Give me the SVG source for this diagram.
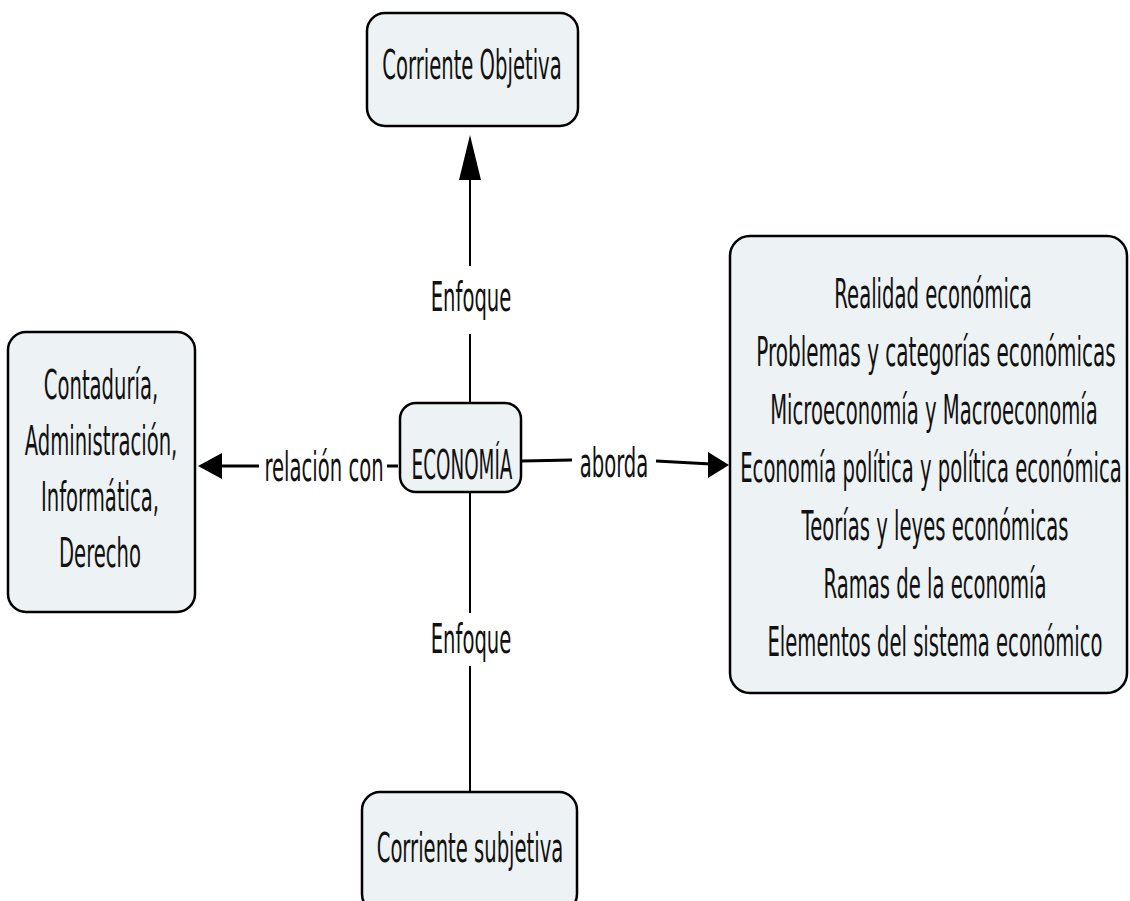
<svg xmlns="http://www.w3.org/2000/svg" width="1130" height="901" viewBox="0 0 1130 901">
<style>
.box{fill:#edf2f4;stroke:#000;stroke-width:2.5}
.t{font-family:"DejaVu Sans","Verdana",sans-serif;font-size:41px;fill:#111;text-anchor:middle}
.ln{stroke:#000;stroke-width:2;fill:none}
.lh{stroke:#000;stroke-width:3;fill:none}
.ah{fill:#000}
</style>
<rect width="1130" height="901" fill="#fff"/>
<g id="connectors">
  <line class="ln" x1="470" y1="178" x2="470" y2="266"/>
  <polygon class="ah" points="470,135 459,180 481,180"/>
  <text class="t" transform="matrix(0.478 0 0 1 471 0)" x="0" y="311">Enfoque</text>
  <line class="ln" x1="470" y1="334" x2="470" y2="402"/>
  <line class="ln" x1="470" y1="493" x2="470" y2="613"/>
  <text class="t" transform="matrix(0.478 0 0 1 471 0)" x="0" y="653">Enfoque</text>
  <line class="ln" x1="470" y1="666" x2="470" y2="791"/>
  <line class="lh" x1="220" y1="466" x2="259" y2="466"/>
  <polygon class="ah" points="198,466 222,453 222,479"/>
  <text class="t" transform="matrix(0.478 0 0 1 324 0)" x="0" y="481">relación con</text>
  <line class="lh" x1="387" y1="466" x2="398" y2="466"/>
  <line class="lh" x1="522" y1="461" x2="572" y2="460"/>
  <text class="t" transform="matrix(0.478 0 0 1 614 0)" x="0" y="477">aborda</text>
  <line class="lh" x1="656" y1="461" x2="711" y2="464"/>
  <polygon class="ah" points="729,465 708,452 708,478"/>
</g>
<g id="node-objetiva">
  <rect class="box" x="367" y="13" width="211" height="113" rx="18"/>
  <text class="t" transform="matrix(0.478 0 0 1 472 0)" x="0" y="79">Corriente Objetiva</text>
</g>
<g id="node-economia">
  <rect class="box" x="400" y="403" width="121" height="89" rx="16"/>
  <text class="t" transform="matrix(0.448 0 0 1 462 0)" x="0" y="479">ECONOMÍA</text>
</g>
<g id="node-relacion">
  <rect class="box" x="8" y="332" width="187" height="280" rx="18"/>
  <text class="t" transform="matrix(0.478 0 0 1 101 0)" x="0" y="399">Contaduría,</text>
  <text class="t" transform="matrix(0.478 0 0 1 101 0)" x="0" y="455">Administración,</text>
  <text class="t" transform="matrix(0.478 0 0 1 100 0)" x="0" y="511">Informática,</text>
  <text class="t" transform="matrix(0.478 0 0 1 100 0)" x="0" y="567">Derecho</text>
</g>
<g id="node-aborda">
  <rect class="box" x="730" y="236" width="397" height="457" rx="20"/>
  <text class="t" transform="matrix(0.478 0 0 1 933 0)" x="0" y="308">Realidad económica</text>
  <text class="t" transform="matrix(0.488 0 0 1 936 0)" x="0" y="366">Problemas y categorías económicas</text>
  <text class="t" transform="matrix(0.478 0 0 1 934 0)" x="0" y="424">Microeconomía y Macroeconomía</text>
  <text class="t" transform="matrix(0.478 0 0 1 931 0)" x="0" y="482">Economía política y política económica</text>
  <text class="t" transform="matrix(0.478 0 0 1 935 0)" x="0" y="540">Teorías y leyes económicas</text>
  <text class="t" transform="matrix(0.478 0 0 1 935 0)" x="0" y="598">Ramas de la economía</text>
  <text class="t" transform="matrix(0.478 0 0 1 935 0)" x="0" y="656">Elementos del sistema económico</text>
</g>
<g id="node-subjetiva">
  <rect class="box" x="362" y="792" width="215" height="120" rx="18"/>
  <text class="t" transform="matrix(0.478 0 0 1 470 0)" x="0" y="862">Corriente subjetiva</text>
</g>
</svg>
